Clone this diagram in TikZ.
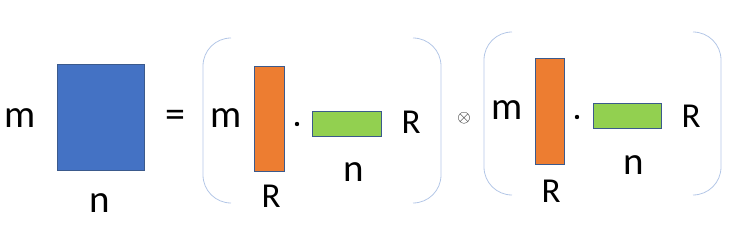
\documentclass[tikz,border=0pt]{standalone}
\usepackage{fontspec}
\setmainfont{Carlito}
\definecolor{mblue}{HTML}{4472C4}
\definecolor{morange}{HTML}{ED7D31}
\definecolor{mgreen}{HTML}{92D050}
\definecolor{medge}{HTML}{3B5A8C}
\definecolor{brk}{HTML}{B4C7E7}
\tikzset{
  mat/.style={draw=medge, line width=0.8pt, inner sep=0pt, outer sep=0pt},
  big/.style={anchor=base, inner sep=0pt, font=\fontsize{39}{39}\selectfont},
  rlab/.style={anchor=base, inner sep=0pt, font=\fontsize{35}{35}\selectfont},
  bracket/.style={draw=brk, line width=0.8pt, rounded corners=28pt},
  dotop/.style={circle, fill=black, inner sep=0pt, minimum size=4.4pt},
}
\begin{document}
\begin{tikzpicture}[x=1pt, y=-1pt]
\useasboundingbox (0,0) rectangle (750,240);
% left side
\node[mat, fill=mblue, minimum width=87pt, minimum height=106pt] (A) at (100.5,117) {};
\node[big] (Am) at (20,128) {m};
\node[big] (An) at (100,213) {n};
\node[inner sep=0pt, font=\fontsize{40}{40}\selectfont] (eq) at (175,119) {=};
% group 1
\draw[bracket] (231,38) -- (203,38) -- (203,203) -- (231,203);
\draw[bracket] (413,38) -- (441,38) -- (441,203) -- (413,203);
\node[mat, fill=morange, minimum width=30pt, minimum height=105pt] (B1) at (269,118.5) {};
\node[mat, fill=mgreen, minimum width=69pt, minimum height=25pt] (C1) at (346.5,123.5) {};
\node[dotop] (d1) at (297,124) {};
\node[big] (m1) at (226,128) {m};
\node[rlab] (R1a) at (271,208) {R};
\node[big] (n1) at (354,182) {n};
\node[rlab] (R1b) at (411,134) {R};
% otimes
\node[inner sep=0pt, font=\fontsize{19}{19}\selectfont] (ot) at (464,118) {$\otimes$};
% group 2
\draw[bracket] (512,32) -- (484,32) -- (484,195) -- (512,195);
\draw[bracket] (693,32) -- (721,32) -- (721,195) -- (693,195);
\node[mat, fill=morange, minimum width=29pt, minimum height=106pt] (B2) at (549.5,111) {};
\node[mat, fill=mgreen, minimum width=68pt, minimum height=25pt] (C2) at (627,115.5) {};
\node[dotop] (d2) at (577,117) {};
\node[big] (m2) at (507,120) {m};
\node[rlab] (R2a) at (551,203) {R};
\node[big] (n2) at (634,175) {n};
\node[rlab] (R2b) at (691,128) {R};
\end{tikzpicture}
\end{document}
